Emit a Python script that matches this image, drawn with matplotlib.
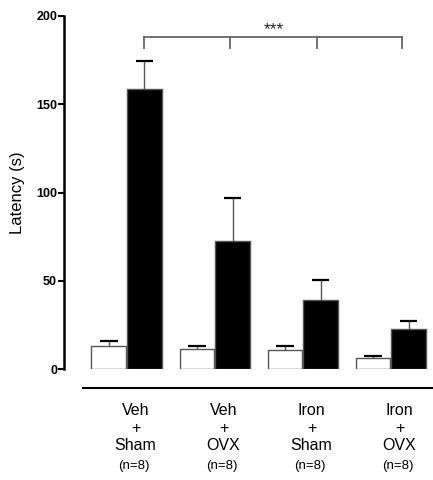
import matplotlib.pyplot as plt
import numpy as np

plt.rcParams["font.family"] = ["Liberation Sans", "DejaVu Sans"]

# Podatki (odčitani s slike)
groups = ["Veh\n+\nSham", "Veh\n+\nOVX", "Iron\n+\nSham", "Iron\n+\nOVX"]
n_labels = ["(n=8)", "(n=8)", "(n=8)", "(n=8)"]
white_vals = [13.4, 11.3, 10.8, 6.6]
white_err = [2.8, 1.9, 2.6, 1.1]
black_vals = [158.8, 72.5, 39.1, 22.7]
black_err = [15.9, 24.7, 11.7, 4.5]

fig = plt.figure(figsize=(4.33, 4.80), dpi=100)
ax = fig.add_axes([64 / 433, 1 - 369.3 / 480, (433 - 64) / 433, (369.3 - 16) / 480])

x = np.arange(len(groups))
off = 0.203
w = 0.392
cap = 0.1

ax.bar(x - off, white_vals, w, color="white", edgecolor="#555555", linewidth=1.0, zorder=2)
ax.bar(x + off, black_vals, w, color="black", edgecolor="#555555", linewidth=1.0, zorder=2)

# samo zgornji del napake
for xs, vals, errs in [(x - off, white_vals, white_err), (x + off, black_vals, black_err)]:
    tops = np.array(vals) + np.array(errs)
    ax.vlines(xs, vals, tops, color="#555555", linewidth=1.0, zorder=1)
    ax.hlines(tops, xs - cap, xs + cap, color="black", linewidth=1.6, zorder=1)

ax.set_xlim(-0.711, 3.48)
ax.set_ylim(0, 200)

ax.spines["top"].set_visible(False)
ax.spines["right"].set_visible(False)
ax.spines["bottom"].set_visible(False)
ax.spines["left"].set_linewidth(1.8)
ax.set_yticks([0, 50, 100, 150, 200])
ax.tick_params(axis="y", direction="out", length=4, width=1.5, labelsize=9, pad=1)
for t in ax.get_yticklabels():
    t.set_fontweight("bold")
ax.set_xticks([])
ax.set_ylabel("Latency (s)", fontsize=12, labelpad=8)

# vodoravna črta pod stolpci
ax.plot([-0.5, 3.48], [-10.8, -10.8], color="black", linewidth=1.5, clip_on=False)

# oznake skupin
for i, (g, n) in enumerate(zip(groups, n_labels)):
    ax.text(i + 0.1, -19.0, g, ha="center", va="top", fontsize=11.5,
            linespacing=1.22)
    ax.text(i + 0.08, -51.5, n, ha="center", va="top", fontsize=9.5)

# oklepaj s pomembnostjo
bx = x + off - np.array([0, 0.03, 0.04, 0.07])
ytop, ylow = 188, 182
ax.plot([bx[0], bx[-1]], [ytop, ytop], color="#666666", linewidth=1.3, clip_on=False)
for b in bx:
    ax.plot([b, b], [ylow, ytop], color="#666666", linewidth=1.3, clip_on=False)
ax.text((bx[0] + bx[-1]) / 2, 190, "***", ha="center", va="baseline",
        fontsize=12.5, color="#222222")

plt.savefig("out.png", dpi=100)
